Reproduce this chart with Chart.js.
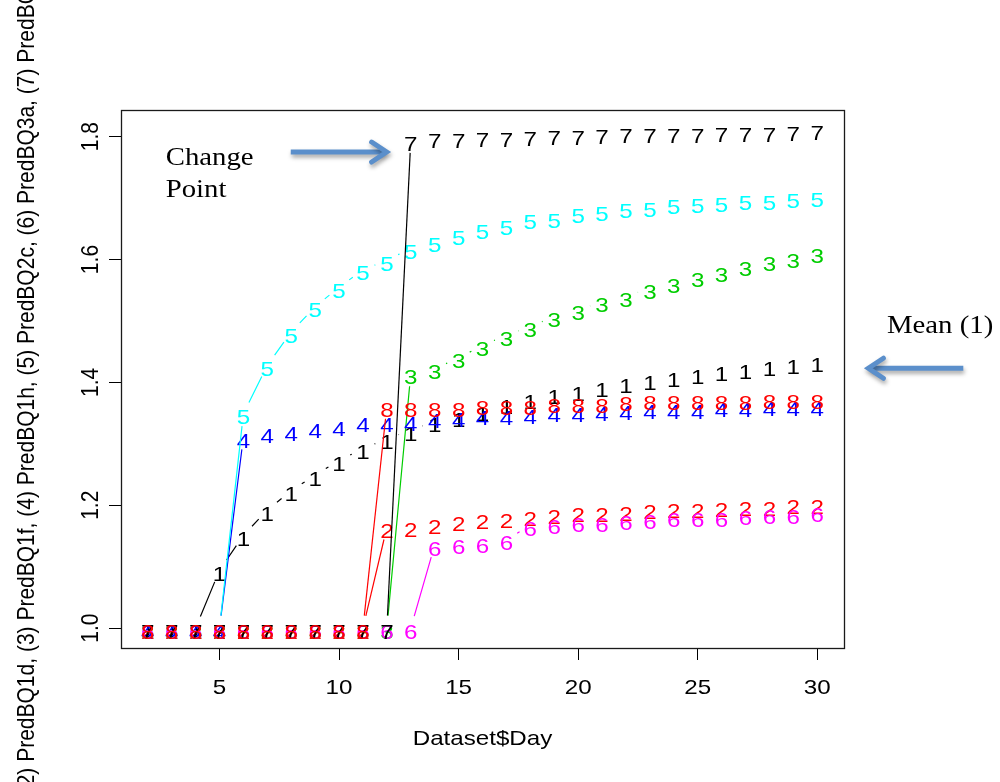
<!DOCTYPE html>
<html>
<head>
<meta charset="utf-8">
<style>
html,body{margin:0;padding:0;background:#ffffff;}
canvas{display:block;}
</style>
<script src="https://cdn.jsdelivr.net/npm/chart.js@4/dist/chart.umd.min.js"></script>
</head>
<body>
<canvas id="c" width="1000" height="782"></canvas>
<script>
// ---------------- data ----------------
const days = [2,3,4,5,6,7,8,9,10,11,12,13,14,15,16,17,18,19,20,21,22,23,24,25,26,27,28,29,30];

const series1 = [1.0,1.0,1.0,1.094,1.151,1.192,1.224,1.249,1.273,1.292,1.308,1.322,1.336,1.345,1.355,1.365,1.373,1.382,1.387,1.393,1.400,1.405,1.410,1.414,1.419,1.422,1.427,1.430,1.434];
const series2 = [1.0,1.0,1.0,1.0,1.0,1.0,1.0,1.0,1.0,1.0,1.164,1.166,1.171,1.175,1.178,1.180,1.184,1.186,1.189,1.190,1.192,1.194,1.196,1.196,1.198,1.200,1.200,1.202,1.202];
const series3 = [1.0,1.0,1.0,1.0,1.0,1.0,1.0,1.0,1.0,1.0,1.0,1.414,1.422,1.440,1.460,1.477,1.491,1.507,1.518,1.531,1.540,1.553,1.562,1.572,1.581,1.590,1.598,1.603,1.611];
const series4 = [1.0,1.0,1.0,1.0,1.311,1.318,1.322,1.327,1.330,1.336,1.337,1.338,1.343,1.345,1.347,1.348,1.350,1.352,1.352,1.355,1.356,1.357,1.357,1.358,1.361,1.361,1.363,1.363,1.363];
const series5 = [1.0,1.0,1.0,1.0,1.349,1.428,1.482,1.523,1.555,1.583,1.599,1.618,1.629,1.641,1.650,1.657,1.666,1.669,1.676,1.680,1.684,1.687,1.691,1.693,1.695,1.697,1.698,1.701,1.702];
const series6 = [1.0,1.0,1.0,1.0,1.0,1.0,1.0,1.0,1.0,1.0,1.0,1.0,1.135,1.137,1.140,1.144,1.167,1.170,1.173,1.174,1.176,1.178,1.181,1.182,1.182,1.185,1.186,1.186,1.189];
const series7 = [1.0,1.0,1.0,1.0,1.0,1.0,1.0,1.0,1.0,1.0,1.0,1.794,1.798,1.799,1.800,1.801,1.802,1.803,1.804,1.805,1.806,1.806,1.807,1.807,1.808,1.809,1.809,1.810,1.811];
const series8 = [1.0,1.0,1.0,1.0,1.0,1.0,1.0,1.0,1.0,1.0,1.361,1.361,1.361,1.361,1.364,1.364,1.364,1.368,1.368,1.368,1.370,1.372,1.372,1.372,1.372,1.372,1.373,1.373,1.373];

const seriesNames = ['PredMean','PredBQ1d','PredBQ1f','PredBQ1h','PredBQ2c','PredBQ3a','PredBQ3c','PredBQ4b'];
const seriesSymbols = ['1','2','3','4','5','6','7','8'];
const xTicks = [5,10,15,20,25,30];
const yTicks = [1.0,1.2,1.4,1.6,1.8];
const xTitle = 'Dataset$Day';
const yTitle = seriesNames.map((n,i)=>'(' + (i+1) + ') ' + n).join(', ');
const changeLabel = ['Change','Point'];
const meanLabel = 'Mean (1)';

// ---------------- styles ----------------
const allSeries = [series1,series2,series3,series4,series5,series6,series7,series8];
const seriesColors = ['#000000','#FF0000','#00CD00','#0000FF','#00FFFF','#FF00FF','#000000','#FF0000'];
const SX = 1.15;           // horizontal stretch of the picture's text
const GAP = 12.5;          // type="b" gap around each symbol
const SANS = "'Liberation Sans', Arial, sans-serif";
const SERIF = "'Liberation Serif', 'Times New Roman', serif";
const ARROW = '#5B8FCB';
const FS = '21px ';

// annotation anchors in data units
const changeAnchor = {x:2.75, y1:1.754, y2:1.701};
const arrow1 = {x0:7.98, x1:11.99, y:1.775};
const meanAnchor = {x:32.92, y:1.480};
const arrow2 = {x0:36.11, x1:32.14, y:1.423};

function sText(ctx, txt, x, y, font, align, color, rot){
  ctx.save();
  ctx.translate(x, y);
  ctx.scale(SX, 1);
  if (rot) ctx.rotate(rot);
  ctx.font = font;
  ctx.textAlign = align;
  ctx.textBaseline = 'alphabetic';
  ctx.fillStyle = color;
  ctx.fillText(txt, 0, 0);
  ctx.restore();
}

function drawArrow(ctx, xa, xb, y){
  ctx.save();
  ctx.shadowColor = 'rgba(0,0,0,0.35)';
  ctx.shadowBlur = 4;
  ctx.shadowOffsetX = 1;
  ctx.shadowOffsetY = 3;
  ctx.strokeStyle = ARROW;
  ctx.lineWidth = 5;
  const dir = xb > xa ? 1 : -1;
  ctx.beginPath();
  ctx.moveTo(xa, y);
  ctx.lineTo(xb - dir*3, y);
  ctx.stroke();
  ctx.lineJoin = 'miter';
  ctx.lineCap = 'round';
  ctx.beginPath();
  ctx.moveTo(xb - dir*15, y - 10);
  ctx.lineTo(xb, y);
  ctx.lineTo(xb - dir*15, y + 10);
  ctx.stroke();
  ctx.restore();
}

const matplotPlugin = {
  id: 'matplot',
  afterDatasetsDraw(chart){
    const ctx = chart.ctx;
    const area = chart.chartArea;
    ctx.save();
    ctx.beginPath();
    ctx.rect(area.left, area.top, area.right-area.left, area.bottom-area.top);
    ctx.clip();
    chart.data.datasets.forEach((ds, i) => {
      const pts = chart.getDatasetMeta(i).data;
      const col = seriesColors[i];
      ctx.strokeStyle = col;
      ctx.lineWidth = 1.2;
      ctx.beginPath();
      for (let j = 0; j < pts.length - 1; j++){
        const p = pts[j], q = pts[j+1];
        const dx = q.x - p.x, dy = q.y - p.y;
        const d = Math.sqrt(dx*dx + dy*dy);
        if (d > 2*GAP){
          ctx.moveTo(p.x + dx/d*GAP, p.y + dy/d*GAP);
          ctx.lineTo(q.x - dx/d*GAP, q.y - dy/d*GAP);
        }
      }
      ctx.stroke();
      pts.forEach(p => {
        sText(ctx, seriesSymbols[i], p.x, p.y + 10.5, FS + SANS, 'center', col);
      });
    });
    ctx.restore();
  },
  afterDraw(chart){
    const ctx = chart.ctx;
    const a = chart.chartArea;
    const xs = chart.scales.x, ys = chart.scales.y;
    // box
    ctx.save();
    ctx.strokeStyle = '#1a1a1a';
    ctx.lineWidth = 1.3;
    ctx.strokeRect(a.left + 0.5, a.top + 0.5, a.right - a.left, a.bottom - a.top);
    ctx.restore();
    // tick labels
    xs.ticks.forEach(t => {
      sText(ctx, String(t.value), xs.getPixelForValue(t.value), a.bottom + 46, FS + SANS, 'center', '#000');
    });
    ys.ticks.forEach(t => {
      sText(ctx, t.value.toFixed(1), a.left - 23.5, ys.getPixelForValue(t.value), FS + SANS, 'center', '#000', -Math.PI/2);
    });
    // titles
    sText(ctx, xTitle, (a.left + a.right)/2, 745, FS + SANS, 'center', '#000');
    sText(ctx, yTitle, 34, (a.top + a.bottom)/2, FS + SANS, 'center', '#000', -Math.PI/2);
    // annotations
    sText(ctx, changeLabel[0], xs.getPixelForValue(changeAnchor.x), ys.getPixelForValue(changeAnchor.y1), '25px ' + SERIF, 'left', '#000');
    sText(ctx, changeLabel[1], xs.getPixelForValue(changeAnchor.x), ys.getPixelForValue(changeAnchor.y2), '25px ' + SERIF, 'left', '#000');
    sText(ctx, meanLabel, xs.getPixelForValue(meanAnchor.x), ys.getPixelForValue(meanAnchor.y), '25px ' + SERIF, 'left', '#000');
    drawArrow(ctx, xs.getPixelForValue(arrow1.x0), xs.getPixelForValue(arrow1.x1), ys.getPixelForValue(arrow1.y));
    drawArrow(ctx, xs.getPixelForValue(arrow2.x0), xs.getPixelForValue(arrow2.x1), ys.getPixelForValue(arrow2.y));
  }
};

const datasets = allSeries.map((vals, i) => ({
  label: seriesNames[i],
  data: days.map((d, k) => ({x: d, y: vals[k]})),
  showLine: false,
  pointRadius: 0,
  pointHoverRadius: 0,
  borderColor: seriesColors[i],
  backgroundColor: seriesColors[i]
}));

new Chart(document.getElementById('c'), {
  type: 'scatter',
  data: { datasets },
  options: {
    responsive: false,
    animation: false,
    devicePixelRatio: 1,
    events: [],
    layout: { padding: { left: 0, top: 110, right: 156, bottom: 0 } },
    plugins: { legend: { display: false }, tooltip: { enabled: false } },
    scales: {
      x: {
        type: 'linear', min: 0.88, max: 31.12,
        afterBuildTicks: s => { s.ticks = xTicks.map(v => ({value: v})); },
        afterFit: s => { s.height = 134; },
        ticks: { display: false },
        grid: { drawOnChartArea: false, drawTicks: true, tickLength: 12, color: '#000', lineWidth: 1 },
        border: { display: false }
      },
      y: {
        type: 'linear', min: 0.96756, max: 1.84344,
        afterBuildTicks: s => { s.ticks = yTicks.map(v => ({value: v})); },
        afterFit: s => { s.width = 121; },
        ticks: { display: false },
        grid: { drawOnChartArea: false, drawTicks: true, tickLength: 12, color: '#000', lineWidth: 1 },
        border: { display: false }
      }
    }
  },
  plugins: [matplotPlugin]
});
</script>
</body>
</html>
